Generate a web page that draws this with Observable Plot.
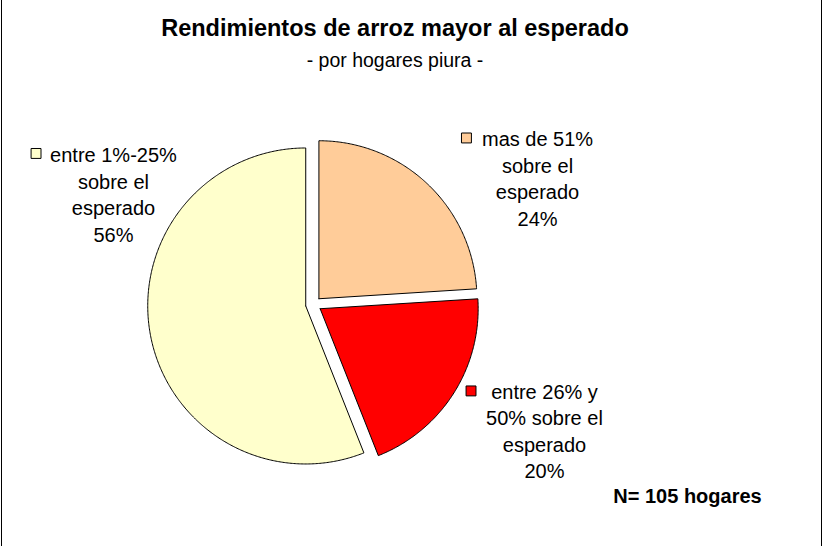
<!DOCTYPE html>
<html>
<head>
<meta charset="utf-8">
<script src="https://cdn.jsdelivr.net/npm/d3@7"></script>
<script src="https://cdn.jsdelivr.net/npm/@observablehq/plot@0.6"></script>
<style>
  html, body { margin: 0; padding: 0; background: #fff; }
  #wrap { position: relative; width: 823px; height: 546px; background: #fff; overflow: hidden;
          font-family: "Liberation Sans", Arial, sans-serif; color: #000; }
  .bl { position: absolute; top: 0; width: 1px; height: 546px; background: #000; }
  #head { position: absolute; left: 0; top: 0; width: 790px; height: 75px; text-align: center; }
  #title { position: absolute; left: 0; width: 790px; top: 14px; font-size: 23.5px; line-height: 28px; font-weight: bold; }
  #subtitle { position: absolute; left: 0; width: 790px; top: 48px; font-size: 19.5px; line-height: 24px; }
  #chart { position: absolute; left: 0; top: 75px; }
</style>
</head>
<body>
<div id="wrap">
  <div class="bl" style="left:1px"></div>
  <div class="bl" style="left:821px"></div>
  <div id="head"><div id="title"></div><div id="subtitle"></div></div>
  <div id="chart"></div>
</div>
<script>
// ---- data ----
const titleText = "Rendimientos de arroz mayor al esperado";
const subtitleText = "- por hogares piura -";
const categories = ["mas de 51% sobre el esperado", "entre 26% y 50% sobre el esperado", "entre 1%-25% sobre el esperado"];
const shares = [24, 20, 56];
const labelLines = [["mas de 51%", "sobre el", "esperado"], ["entre 26% y", "50% sobre el", "esperado"], ["entre 1%-25%", "sobre el", "esperado"]];
const percentLabels = ["24%", "20%", "56%"];
const noteText = "N= 105 hogares";

// ---- styles / layout ----
const colors = ["#FFCC99", "#FF0000", "#FFFFCC"];
const explode = 0.05;                      // in pie-radius units
const labelPos = [[1.418, 0.804], [1.462, -0.794], [-1.266, 0.703]];
const keyPos = [[0.968, 1.054], [0.997, -0.547], [-1.756, 0.956]];
const notePos = [2.367, -1.215];

document.getElementById("title").textContent = titleText;
document.getElementById("subtitle").textContent = subtitleText;

const arcs = d3.pie().sort(null).value(d => d)(shares);
const pts = [];
arcs.forEach((a, i) => {
  const mid = (a.startAngle + a.endAngle) / 2;
  const ox = explode * Math.sin(mid), oy = explode * Math.cos(mid);
  const key = categories[i];
  pts.push({key, x: ox, y: oy});
  const n = Math.ceil((a.endAngle - a.startAngle) / (Math.PI / 360));
  for (let j = 0; j <= n; j++) {
    const t = a.startAngle + (a.endAngle - a.startAngle) * j / n;
    pts.push({key, x: ox + Math.sin(t), y: oy + Math.cos(t)});
  }
  pts.push({key, x: ox, y: oy});
});

const labels = categories.map((c, i) => ({
  key: c,
  x: labelPos[i][0], y: labelPos[i][1],
  kx: keyPos[i][0], ky: keyPos[i][1],
  text: labelLines[i].join("\n") + "\n" + percentLabels[i]
}));

const chart = Plot.plot({
  width: 823,
  height: 471,
  margin: 0,
  style: {fontFamily: "'Liberation Sans', Arial, sans-serif", background: "transparent", color: "#000"},
  x: {domain: [-1, 1], range: [155, 471], axis: null},
  y: {domain: [-1, 1], range: [387, 71], axis: null},
  color: {type: "ordinal", domain: categories, range: colors},
  marks: [
    Plot.line(pts, {x: "x", y: "y", z: "key", fill: "key", stroke: "#000", strokeWidth: 1, curve: "linear", strokeLinejoin: "round"}),
    Plot.dot(labels, {x: "kx", y: "ky", symbol: "square", r: 5.6, fill: "key", stroke: "#000", strokeWidth: 1}),
    Plot.text(labels, {x: "x", y: "y", text: "text", fontSize: 20, lineHeight: 1.33, textAnchor: "middle", fill: "#000"}),
    Plot.text([noteText], {x: notePos[0], y: notePos[1], text: d => d, fontSize: 20, fontWeight: "bold", textAnchor: "middle", fill: "#000"})
  ]
});
document.getElementById("chart").appendChild(chart);
</script>
</body>
</html>
